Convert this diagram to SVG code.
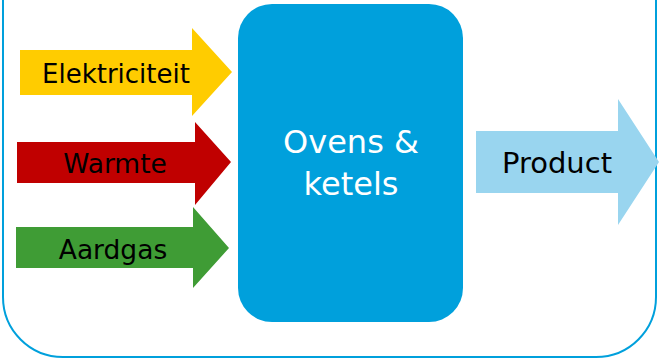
<svg xmlns="http://www.w3.org/2000/svg" width="659" height="361" viewBox="0 0 659 361">
<style>
.lbl{font-family:"DejaVu Sans","Verdana",sans-serif;fill:#000;text-anchor:middle}
.wht{font-family:"DejaVu Sans","Verdana",sans-serif;fill:#fff;text-anchor:middle}
</style>
<rect width="659" height="361" fill="#fff"/>
<g id="frame"><rect x="3" y="-80" width="653" height="437" rx="60" ry="60" fill="none" stroke="#00A0DC" stroke-width="2"/></g>
<g id="connectors"></g>
<g id="elektriciteit">
<polygon points="20,50 192,50 192,28 232,72 192,116 192,95 20,95" fill="#FFCC00"/>
<text class="lbl" x="116" y="83" font-size="26">Elektriciteit</text>
</g>
<g id="warmte">
<polygon points="17,142 195,142 195,122 231,162 195,205 195,183 17,183" fill="#C00000"/>
<text class="lbl" x="115" y="173" font-size="26.5">Warmte</text>
</g>
<g id="aardgas">
<polygon points="16,227 193,227 193,207 229,248 193,288 193,268 16,268" fill="#3F9C35"/>
<text class="lbl" x="113" y="259" font-size="26.5">Aardgas</text>
</g>
<g id="ovens">
<rect x="238" y="4" width="225" height="318" rx="34" ry="34" fill="#00A0DC"/>
<text class="wht" x="351" y="153" font-size="32">Ovens &amp;</text>
<text class="wht" x="351" y="195" font-size="32">ketels</text>
</g>
<g id="product">
<polygon points="476,131 618,131 618,99 659,162 618,225 618,193 476,193" fill="#99D5EF"/>
<text class="lbl" x="557" y="173" font-size="29">Product</text>
</g>
</svg>
